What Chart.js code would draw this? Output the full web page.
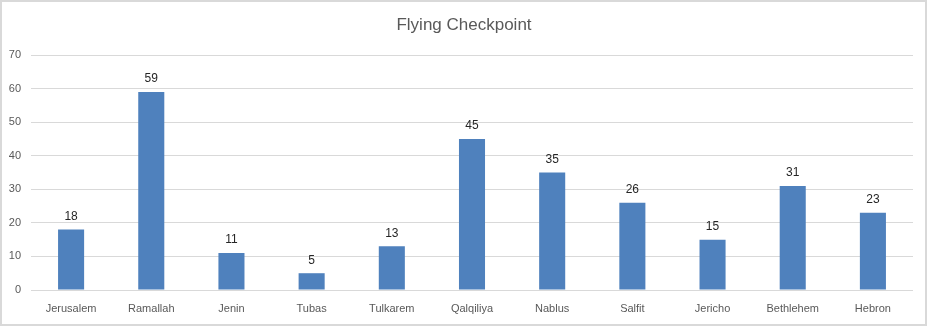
<!DOCTYPE html>
<html>
<head>
<meta charset="utf-8">
<script src="https://cdn.jsdelivr.net/npm/chart.js@4"></script>
<style>
  html, body { margin: 0; padding: 0; background: #fff; }
  #wrap { width: 928px; height: 327px; position: relative; }
</style>
</head>
<body>
<div id="wrap"><canvas id="checkpointChart"></canvas></div>
<script>
const governorates = ['Jerusalem', 'Ramallah', 'Jenin', 'Tubas', 'Tulkarem', 'Qalqiliya', 'Nablus', 'Salfit', 'Jericho', 'Bethlehem', 'Hebron'];
const checkpoints = [18, 59, 11, 5, 13, 45, 35, 26, 15, 31, 23];
const yTicks = [0, 10, 20, 30, 40, 50, 60, 70];
const chartTitle = 'Flying Checkpoint';

// value labels above each bar
const barLabels = {
  id: 'barLabels',
  afterDatasetsDraw(chart) {
    const { ctx } = chart;
    const meta = chart.getDatasetMeta(0);
    ctx.save();
    ctx.font = '12px "Liberation Sans", sans-serif';
    ctx.fillStyle = '#262626';
    ctx.textAlign = 'center';
    ctx.textBaseline = 'bottom';
    meta.data.forEach((bar, i) => {
      ctx.fillText(chart.data.datasets[0].data[i], bar.x, bar.y - 7);
    });
    ctx.restore();
  },
};

// white background, centred title and a thin frame round the whole chart
const frame = {
  id: 'frame',
  beforeDraw(chart) {
    const { ctx, width, height } = chart;
    ctx.save();
    ctx.fillStyle = '#fff';
    ctx.fillRect(0, 0, width, height);
    ctx.restore();
  },
  afterDraw(chart) {
    const { ctx, width, height } = chart;
    ctx.save();
    ctx.font = '17px "Liberation Sans", sans-serif';
    ctx.fillStyle = '#595959';
    ctx.textAlign = 'center';
    ctx.textBaseline = 'middle';
    ctx.fillText(chartTitle, width / 2, 25);
    ctx.strokeStyle = '#d9d9d9';
    ctx.lineWidth = 2;
    ctx.strokeRect(1, 1, width - 3, height - 3);
    ctx.restore();
  },
};

const chartConfig = {
  type: 'bar',
  data: {
    labels: governorates,
    datasets: [{
      label: chartTitle,
      data: checkpoints,
      backgroundColor: '#4f81bd',
      barPercentage: 0.325,
      categoryPercentage: 1,
    }],
  },
  options: {
    responsive: true,
    maintainAspectRatio: false,
    animation: false,
    layout: { padding: { top: 55, right: 15, bottom: 0, left: 0 } },
    plugins: {
      legend: { display: false },
      tooltip: { enabled: false },
      title: { display: false },
    },
    scales: {
      x: {
        grid: { display: false, drawTicks: false },
        border: { display: false },
        ticks: { color: '#595959', font: { family: '"Liberation Sans", sans-serif', size: 11 }, padding: 12, maxRotation: 0 },
        afterFit(scale) { scale.height = 37; },
      },
      y: {
        min: 0,
        max: 70,
        afterBuildTicks(scale) { scale.ticks = yTicks.map((v) => ({ value: v })); },
        grid: { color: '#d9d9d9', drawTicks: false },
        border: { display: false },
        ticks: { color: '#595959', font: { family: '"Liberation Sans", sans-serif', size: 11 }, padding: 10 },
        afterFit(scale) { scale.width = 31; },
      },
    },
  },
  plugins: [frame, barLabels],
};

new Chart(document.getElementById('checkpointChart'), chartConfig);
</script>
</body>
</html>
